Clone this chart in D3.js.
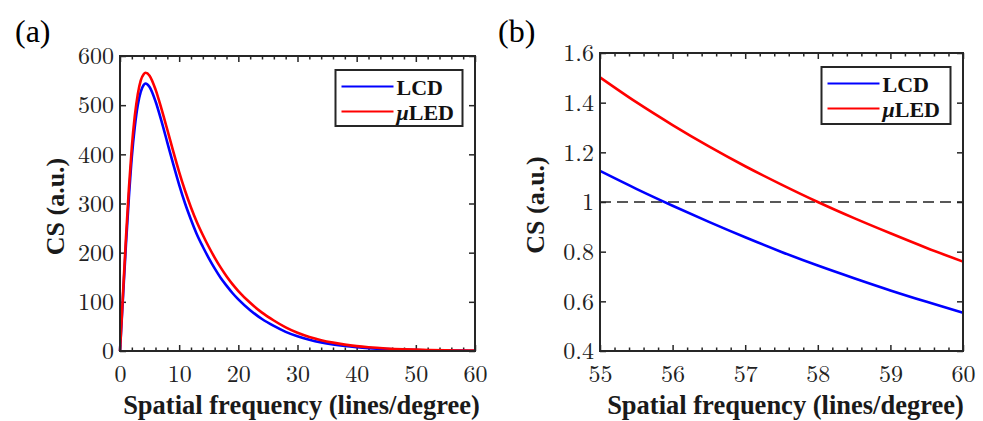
<!DOCTYPE html>
<html>
<head>
<meta charset="utf-8">
<script src="https://cdn.jsdelivr.net/npm/d3@7"></script>
<style>
  html, body { margin: 0; padding: 0; background: #fff; }
  svg { display: block; }
</style>
</head>
<body>
<svg id="chart" width="983" height="421"></svg>
<script>
// ---------- Data ----------
// Panel (a): full range
const freqA = [0, 0.5, 1, 1.5, 2, 2.5, 3, 3.5, 4, 4.3, 5, 6, 7, 8, 9, 10, 11, 12, 13, 14, 15, 16, 17, 18, 19, 20,
               22, 24, 26, 28, 30, 32, 34, 36, 38, 40, 42, 45, 48, 50, 52, 55, 58, 60];
const lcdA  = [0, 108, 215, 312, 395, 456, 500, 527, 541, 544, 537, 508, 468, 424, 380, 338, 300, 267, 237, 212, 189, 168, 149, 133, 118, 105,
               83, 65, 51, 39, 30, 23, 17.5, 13.3, 10.1, 7.7, 5.8, 3.8, 2.5, 1.9, 1.5, 1.13, 0.74, 0.55];
const ledA  = [0, 115, 228, 330, 415, 478, 522, 550, 563, 566, 560, 532, 493, 450, 406, 364, 326, 292, 262, 236, 212, 190, 170, 152, 136, 122,
               98, 78, 62, 48, 37, 28.5, 22, 17, 13, 10, 7.7, 5.2, 3.5, 2.7, 2.1, 1.5, 1.0, 0.76];
// Panel (b): zoom 55-60
const freqB = [55, 55.5, 56, 56.5, 57, 57.5, 58, 58.5, 59, 59.5, 60];
const lcdB  = [1.125, 1.053, 0.985, 0.920, 0.858, 0.799, 0.744, 0.693, 0.644, 0.598, 0.554];
const ledB  = [1.502, 1.402, 1.310, 1.224, 1.144, 1.070, 1.000, 0.935, 0.874, 0.815, 0.760];
const thresholdB = 1;

// Ticks
const xTicksA = [0, 10, 20, 30, 40, 50, 60];
const yTicksA = [0, 100, 200, 300, 400, 500, 600];
const xTicksB = [55, 56, 57, 58, 59, 60];
const yTicksB = [0.4, 0.6, 0.8, 1, 1.2, 1.4, 1.6];

const seriesNames = ["LCD", "LED"];
const seriesColors = ["#0000ff", "#ff0000"];
const xTitle = "Spatial frequency (lines/degree)";
const yTitle = "CS (a.u.)";

// ---------- Drawing ----------
const FONT = "'Liberation Serif', 'Times New Roman', serif";
const TICKFONT = "'Latin Modern Roman', 'Liberation Serif', serif";
const svg = d3.select("#chart");
const axisColor = "#262626";

function panel(cfg) {
  const { label, labelX, xDomain, yDomain, left, right, top, bottom,
          xTicks, yTicks, xMinorStep, freq, lcd, led, yFmt, dashed, legendBox, curve } = cfg;
  const x = d3.scaleLinear().domain(xDomain).range([left, right]);
  const y = d3.scaleLinear().domain(yDomain).range([bottom, top]);
  const g = svg.append("g");

  svg.append("text").attr("x", labelX).attr("y", 42)
    .style("font-family", FONT)
    .attr("font-size", 32).attr("fill", "#000").text(label);

  const minors = d3.range(xDomain[0], xDomain[1] + 1e-9, xMinorStep)
    .filter(v => !xTicks.some(t => Math.abs(t - v) < 1e-6));

  const styleAxis = sel => {
    sel.attr("font-family", null).attr("font-size", null);
    sel.select(".domain").remove();
    sel.selectAll("line").attr("stroke", axisColor).attr("stroke-width", 1.5);
    sel.selectAll("text").attr("font-size", 24).attr("fill", "#222")
      .style("font-family", TICKFONT);
  };

  g.append("g").attr("transform", `translate(0,${bottom})`)
    .call(d3.axisBottom(x).tickValues(xTicks).tickSizeInner(-6).tickSizeOuter(0).tickPadding(14).tickFormat(d3.format("d")))
    .call(styleAxis);
  g.append("g").attr("transform", `translate(0,${bottom})`)
    .call(d3.axisBottom(x).tickValues(minors).tickSizeInner(-3.5).tickSizeOuter(0).tickFormat(""))
    .call(styleAxis);
  g.append("g").attr("transform", `translate(0,${top})`)
    .call(d3.axisTop(x).tickValues(xTicks).tickSizeInner(-6).tickSizeOuter(0).tickFormat(""))
    .call(styleAxis);
  g.append("g").attr("transform", `translate(0,${top})`)
    .call(d3.axisTop(x).tickValues(minors).tickSizeInner(-3.5).tickSizeOuter(0).tickFormat(""))
    .call(styleAxis);
  g.append("g").attr("transform", `translate(${left},0)`)
    .call(d3.axisLeft(y).tickValues(yTicks).tickSizeInner(-6).tickSizeOuter(0).tickPadding(6).tickFormat(yFmt))
    .call(styleAxis);
  g.append("g").attr("transform", `translate(${right},0)`)
    .call(d3.axisRight(y).tickValues(yTicks).tickSizeInner(-6).tickSizeOuter(0).tickFormat(""))
    .call(styleAxis);

  if (dashed !== undefined) {
    g.append("line")
      .attr("x1", x(xDomain[0])).attr("x2", x(xDomain[1]))
      .attr("y1", y(dashed)).attr("y2", y(dashed))
      .attr("stroke", "#222").attr("stroke-width", 1.5)
      .attr("stroke-dasharray", "11,6");
  }

  const line = d3.line().x((d, i) => x(freq[i])).y(d => y(d)).curve(curve);
  [lcd, led].forEach((vals, k) => {
    g.append("path").datum(vals)
      .attr("fill", "none").attr("stroke", seriesColors[k])
      .attr("stroke-width", 2.6).attr("stroke-linejoin", "round")
      .attr("d", line);
  });

  g.append("rect").attr("x", left).attr("y", top)
    .attr("width", right - left).attr("height", bottom - top)
    .attr("fill", "none").attr("stroke", axisColor).attr("stroke-width", 2);

  g.append("text").attr("x", (left + right) / 2 + 4).attr("y", 414)
    .style("font-family", FONT)
    .attr("text-anchor", "middle").attr("font-size", 26.5).attr("font-weight", "bold")
    .attr("fill", "#1a1a1a").text(xTitle);
  g.append("text")
    .attr("transform", `translate(${left - 56},${(top + bottom) / 2 + 3}) rotate(-90)`)
    .style("font-family", FONT)
    .attr("text-anchor", "middle").attr("font-size", 26).attr("font-weight", "bold")
    .attr("fill", "#1a1a1a").text(yTitle);

  const lb = legendBox;
  const lg = g.append("g");
  lg.append("rect").attr("x", right - lb.dx - lb.w).attr("y", top + lb.dy)
    .attr("width", lb.w).attr("height", lb.h)
    .attr("fill", "#fff").attr("stroke", axisColor).attr("stroke-width", 2);
  const lx0 = right - lb.dx - lb.w + 6;
  seriesNames.forEach((name, k) => {
    const base = top + lb.dy + 25 + k * 25;
    lg.append("line").attr("x1", lx0).attr("x2", lx0 + 52)
      .attr("y1", base - 8.5).attr("y2", base - 8.5)
      .attr("stroke", seriesColors[k]).attr("stroke-width", 2.2);
    const t = lg.append("text").attr("x", lx0 + 55).attr("y", base)
      .style("font-family", FONT)
      .attr("font-size", 22).attr("font-weight", "bold").attr("fill", "#111");
    if (k === 1) {
      t.append("tspan").attr("font-style", "italic").text("\u03bc");
      t.append("tspan").text("LED");
    } else {
      t.text(name);
    }
  });
}

panel({
  label: "(a)", labelX: 15,
  xDomain: [0, 60], yDomain: [0, 600],
  left: 120, right: 475, top: 56, bottom: 351,
  xTicks: xTicksA, yTicks: yTicksA, xMinorStep: 2,
  freq: freqA, lcd: lcdA, led: ledA,
  yFmt: d3.format("d"),
  curve: d3.curveMonotoneX,
  legendBox: { dx: 12.5, dy: 14, w: 127, h: 56 }
});

panel({
  label: "(b)", labelX: 498,
  xDomain: [55, 60], yDomain: [0.4, 1.6],
  left: 600, right: 963, top: 53, bottom: 351,
  xTicks: xTicksB, yTicks: yTicksB, xMinorStep: 0.2,
  freq: freqB, lcd: lcdB, led: ledB,
  yFmt: d => (d === 1 ? "1" : d3.format(".1f")(d)),
  dashed: thresholdB,
  curve: d3.curveCatmullRom,
  legendBox: { dx: 12.5, dy: 14, w: 129, h: 57 }
});
</script>
</body>
</html>
